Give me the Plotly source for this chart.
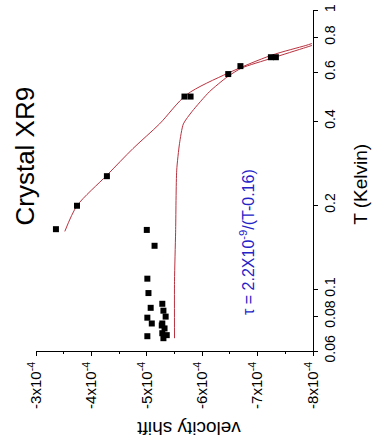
import plotly.graph_objects as go

# Measured points: velocity shift vs temperature T (K)
pts_shift = [-3.36e-4, -3.74e-4, -4.28e-4, -5.68e-4, -5.79e-4, -6.47e-4, -6.69e-4,
             -7.24e-4, -7.33e-4,
             -5.00e-4, -5.14e-4, -5.01e-4, -5.03e-4, -5.07e-4, -5.01e-4, -5.09e-4,
             -5.01e-4, -5.28e-4, -5.30e-4, -5.34e-4, -5.28e-4, -5.32e-4, -5.27e-4,
             -5.36e-4, -5.28e-4, -5.30e-4]
pts_T = [0.164, 0.199, 0.254, 0.49, 0.49, 0.59, 0.63, 0.678, 0.678,
         0.163, 0.143, 0.109, 0.0968, 0.0857, 0.079, 0.0753, 0.0678,
         0.0886, 0.0837, 0.0797, 0.0753, 0.0723, 0.0741, 0.0684, 0.0695, 0.0667]

# Upper fit curve
fit1_shift = [-3.52e-4, -3.74e-4, -4.28e-4, -4.75e-4, -5.23e-4, -5.72e-4, -6.47e-4,
              -7.25e-4, -7.87e-4, -7.98e-4]
fit1_T = [0.161, 0.199, 0.256, 0.319, 0.391, 0.498, 0.595, 0.689, 0.747, 0.759]

# Lower fit curve (tau = 2.2x10^-9/(T-0.16))
fit2_shift = [-5.50e-4, -5.50e-4, -5.52e-4, -5.54e-4, -5.59e-4, -5.66e-4, -5.82e-4,
              -6.13e-4, -6.45e-4, -6.71e-4, -7.25e-4, -7.87e-4, -7.98e-4]
fit2_T = [0.0667, 0.1067, 0.160, 0.267, 0.332, 0.391, 0.434, 0.510, 0.576, 0.620,
          0.672, 0.735, 0.747]

x_ticks = [-3e-4, -4e-4, -5e-4, -6e-4, -7e-4, -8e-4]
x_ticktext = ["-3x10<sup>-4</sup>", "-4x10<sup>-4</sup>", "-5x10<sup>-4</sup>",
              "-6x10<sup>-4</sup>", "-7x10<sup>-4</sup>", "-8x10<sup>-4</sup>"]
y_ticks = [0.06, 0.08, 0.1, 0.2, 0.4, 0.6, 0.8, 1]
y_ticktext = ["0.06", "0.08", "0.1", "0.2", "0.4", "0.6", "0.8", "1"]

FONT = "Liberation Sans, Arial, sans-serif"
LINE_COLOR = "#b8323f"

fig = go.Figure()
fig.add_trace(go.Scatter(x=fit1_shift, y=fit1_T, mode="lines",
                         line=dict(color=LINE_COLOR, width=1, shape="spline", smoothing=0.8),
                         hoverinfo="skip", showlegend=False))
fig.add_trace(go.Scatter(x=fit2_shift, y=fit2_T, mode="lines",
                         line=dict(color=LINE_COLOR, width=1, shape="spline", smoothing=0.6),
                         hoverinfo="skip", showlegend=False))
fig.add_trace(go.Scatter(x=pts_shift, y=pts_T, mode="markers",
                         marker=dict(symbol="square", size=6, color="black",
                                     line=dict(width=0)),
                         showlegend=False))

fig.update_layout(
    width=372, height=448,
    margin=dict(l=36, r=59, t=4, b=97),
    paper_bgcolor="white", plot_bgcolor="white",
    font=dict(family=FONT, color="black", size=14),
    xaxis=dict(range=[-3e-4, -8e-4], tickmode="array", tickvals=x_ticks,
               ticktext=x_ticktext, tickangle=-90, showgrid=False, zeroline=False,
               showline=True, linecolor="black", linewidth=1,
               ticks="outside", ticklen=4, tickcolor="black",
               tickfont=dict(size=15), ticklabeloverflow="allow",
               minor=dict(tickmode="linear", tick0=-3e-4, dtick=5e-5,
                          ticks="outside", ticklen=2, tickcolor="black")),
    yaxis=dict(type="log", range=[-1.2218, 0.0005], side="right", tickmode="array",
               tickvals=y_ticks, ticktext=y_ticktext, tickangle=-90,
               showgrid=False, zeroline=False, showline=True, linecolor="black",
               linewidth=1, ticks="outside", ticklen=4, tickcolor="black",
               tickfont=dict(size=14), ticklabeloverflow="allow"),
)

fig.add_annotation(text="Crystal XR9", xref="paper", yref="paper", x=-0.04, y=0.573,
                   textangle=-90, showarrow=False, xanchor="center", yanchor="middle",
                   font=dict(size=26, color="black", family=FONT))
fig.add_annotation(text="T (Kelvin)", xref="paper", yref="paper", x=1.173, y=0.49,
                   textangle=-90, showarrow=False, xanchor="center", yanchor="middle",
                   font=dict(size=19, color="black", family=FONT))
fig.add_annotation(text="velocity shift", xref="paper", yref="paper", x=0.552, y=-0.228,
                   textangle=180, showarrow=False, xanchor="center", yanchor="middle",
                   font=dict(size=19, color="black", family=FONT))
fig.add_annotation(text="τ = 2.2X10<sup>-9</sup>/(T-0.16)", xref="paper", yref="paper",
                   x=0.762, y=0.32, textangle=-90, showarrow=False,
                   xanchor="center", yanchor="middle",
                   font=dict(size=16, color="#2323c8", family=FONT))

fig.write_html("out.html")
